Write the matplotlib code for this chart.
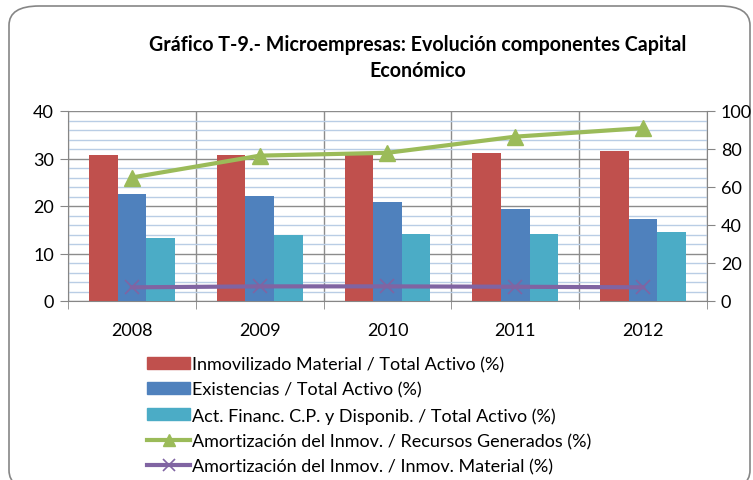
import numpy as np
import matplotlib.pyplot as plt
from matplotlib.patches import FancyBboxPatch
from matplotlib.lines import Line2D

plt.rcParams['font.family'] = ['Lato', 'DejaVu Sans']

years = ['2008', '2009', '2010', '2011', '2012']
inmov_material = [30.7, 30.7, 30.7, 31.1, 31.6]
existencias = [22.5, 22.2, 20.9, 19.4, 17.3]
act_financ = [13.3, 14.0, 14.2, 14.1, 14.5]
amort_recursos = [65.0, 76.5, 78.0, 86.5, 91.0]
amort_inmov = [7.2, 7.7, 7.7, 7.5, 7.2]

labels = ['Inmovilizado Material / Total Activo (%)',
          'Existencias / Total Activo (%)',
          'Act. Financ. C.P. y Disponib. / Total Activo (%)',
          'Amortización del Inmov. / Recursos Generados (%)',
          'Amortización del Inmov. / Inmov. Material (%)']

c_red = '#C0504D'
c_blue = '#4F81BD'
c_cyan = '#4BACC6'
c_green = '#9BBB59'
c_purple = '#8064A2'

fig = plt.figure(figsize=(7.53, 4.81), dpi=100)
# rounded chart border, runs off the bottom edge
fig.patches.append(FancyBboxPatch((9 / 753, -0.02), 741 / 753, 0.02 + 1.0 - 7 / 481,
                                  boxstyle='round,pad=0,rounding_size=0.04',
                                  transform=fig.transFigure, fc='white',
                                  ec='#868686', lw=1.2, zorder=-10))

ax = fig.add_axes([68 / 753, (481 - 302) / 481, (707 - 68) / 753, 190 / 481])
ax.patch.set_alpha(0)
x = np.arange(len(years))
w = 0.224
ax.bar(x - w, inmov_material, w, color=c_red, zorder=3)
ax.bar(x, existencias, w, color=c_blue, zorder=3)
ax.bar(x + w, act_financ, w, color=c_cyan, zorder=3)

ax.set_xlim(-0.5, len(years) - 0.5)
ax.set_ylim(0, 40)
ax.set_yticks(np.arange(0, 41, 10))
ax.set_yticks(np.arange(0, 41, 2), minor=True)
ax.set_xticks(x)
ax.set_xticklabels(years)
ax.set_xticks(np.arange(-0.5, len(years), 1), minor=True)
ax.grid(which='minor', axis='y', color='#B9CDE5', lw=1.0, zorder=0)
ax.grid(which='major', axis='y', color='#8C8C8C', lw=1.0, zorder=1)
ax.grid(which='minor', axis='x', color='#8C8C8C', lw=1.0, zorder=1)
ax.set_axisbelow(True)
ax.tick_params(axis='x', which='major', length=0, labelsize=13, pad=15)
ax.tick_params(axis='x', which='minor', length=6, color='#868686', direction='out')
ax.tick_params(axis='y', which='major', length=6, color='#868686', labelsize=13, pad=4)
ax.tick_params(axis='y', which='minor', length=0)
for s in ['top', 'right']:
    ax.spines[s].set_visible(False)
for s in ['left', 'bottom']:
    ax.spines[s].set_color('#868686')

ax2 = ax.twinx()
ax2.plot(x, amort_recursos, color=c_green, lw=3, marker='^', markersize=11,
         zorder=5)
ax2.plot(x, amort_inmov, color=c_purple, lw=3, marker='x', markersize=10,
         markeredgewidth=1.2, zorder=5)
ax2.set_ylim(0, 100)
ax2.set_yticks(np.arange(0, 101, 20))
ax2.tick_params(axis='y', length=6, color='#868686', labelsize=13, pad=4)
for s in ['top', 'left', 'bottom']:
    ax2.spines[s].set_visible(False)
ax2.spines['right'].set_color('#868686')

fig.text(418 / 753, 1 - 45 / 481, 'Gráfico T-9.- Microempresas: Evolución componentes Capital',
         ha='center', va='center', fontsize=14.1, fontweight='bold')
fig.text(418 / 753, 1 - 71 / 481, 'Económico',
         ha='center', va='center', fontsize=14.1, fontweight='bold')

handles = [plt.Rectangle((0, 0), 1, 1, color=c_red),
           plt.Rectangle((0, 0), 1, 1, color=c_blue),
           plt.Rectangle((0, 0), 1, 1, color=c_cyan),
           Line2D([], [], color=c_green, lw=3, marker='^', markersize=9),
           Line2D([], [], color=c_purple, lw=3, marker='x', markersize=8,
                  markeredgewidth=1.2)]
fig.legend(handles, labels, loc='upper left', bbox_to_anchor=(147 / 753, 1 - 357 / 481),
           frameon=False, fontsize=13, handlelength=2.4, handleheight=0.65,
           handletextpad=0.1, labelspacing=0.52, borderaxespad=0, borderpad=0,
           markerscale=1, numpoints=1)

fig.savefig('out.png', dpi=100)
